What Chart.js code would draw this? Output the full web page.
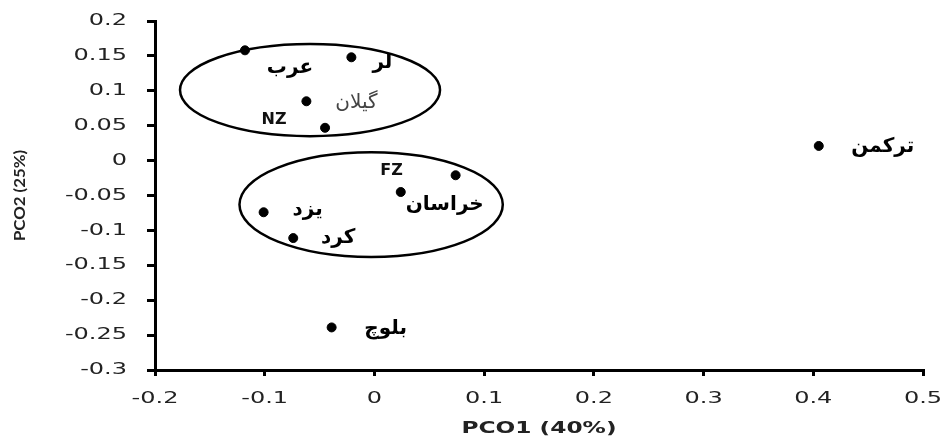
<!DOCTYPE html>
<html>
<head>
<meta charset="utf-8">
<script src="https://cdn.jsdelivr.net/npm/chart.js@4.4.1/dist/chart.umd.min.js"></script>
<style>
  html, body { margin: 0; padding: 0; background: #fff; }
  #wrap { width: 946px; height: 438px; }
</style>
</head>
<body>
<div id="wrap"><canvas id="c" width="946" height="438"></canvas></div>
<script>
// ---- data ----
const groups = ['عرب', 'لر', 'گیلان', 'NZ', 'FZ', 'خراسان', 'یزد', 'کرد', 'بلوچ', 'ترکمن'];
const pco1 = [-0.118, -0.021, -0.062, -0.045, 0.074, 0.024, -0.101, -0.074, -0.039, 0.405];
const pco2 = [0.158, 0.148, 0.085, 0.047, -0.021, -0.045, -0.074, -0.111, -0.239, 0.021];
const xTicks = [-0.2, -0.1, 0, 0.1, 0.2, 0.3, 0.4, 0.5];
const yTicks = [0.2, 0.15, 0.1, 0.05, 0, -0.05, -0.1, -0.15, -0.2, -0.25, -0.3];
const xTickLabels = ['-0.2', '-0.1', '0', '0.1', '0.2', '0.3', '0.4', '0.5'];
const yTickLabels = ['0.2', '0.15', '0.1', '0.05', '0', '-0.05', '-0.1', '-0.15', '-0.2', '-0.25', '-0.3'];
// cluster ellipses (data units): centre x, centre y, radius x, radius y
const ellipseCx = [-0.0587, -0.003];
const ellipseCy = [0.101, -0.063];
const ellipseRx = [0.1185, 0.12];
const ellipseRy = [0.066, 0.075];

// ---- label placement (pixel offsets from the point, style) ----
const labelDx = [45, 31, 50, -51, -64, 44, 44, 45, 54, 64];
const labelDy = [17, 6, 2, -8, -4, 13, -2, 0, 1, 1];
const labelBold = [true, true, false, true, true, true, true, true, true, true];

// Stretch axis text horizontally, like the reference
const stretchPlugin = {
  id: 'stretchText',
  beforeDraw(chart) {
    const ctx = chart.ctx;
    const orig = CanvasRenderingContext2D.prototype.fillText;
    ctx.fillText = function (text, x, y) {
      const s = this.font.indexOf('Lato') >= 0 ? 1.05 : 1.5;
      this.save();
      this.translate(x, y);
      this.scale(s, 1);
      orig.call(this, text, 0, 0);
      this.restore();
    };
  },
  beforeDatasetsDraw(chart) {
    delete chart.ctx.fillText;
  }
};

const ellipsePlugin = {
  id: 'ellipses',
  beforeDatasetsDraw(chart) {
    const ctx = chart.ctx;
    const xs = chart.scales.x, ys = chart.scales.y;
    ctx.save();
    ctx.strokeStyle = '#000';
    ctx.lineWidth = 2.5;
    for (let i = 0; i < ellipseCx.length; i++) {
      const cx = xs.getPixelForValue(ellipseCx[i]);
      const cy = ys.getPixelForValue(ellipseCy[i]);
      const rx = Math.abs(xs.getPixelForValue(ellipseCx[i] + ellipseRx[i]) - cx);
      const ry = Math.abs(ys.getPixelForValue(ellipseCy[i] + ellipseRy[i]) - cy);
      ctx.beginPath();
      ctx.ellipse(cx, cy, rx, ry, 0, 0, Math.PI * 2);
      ctx.stroke();
    }
    ctx.restore();
  }
};

const labelPlugin = {
  id: 'pointLabels',
  afterDatasetsDraw(chart) {
    const ctx = chart.ctx;
    const xs = chart.scales.x, ys = chart.scales.y;
    ctx.save();
    ctx.textAlign = 'center';
    ctx.textBaseline = 'middle';
    for (let i = 0; i < groups.length; i++) {
      const px = xs.getPixelForValue(pco1[i]) + labelDx[i];
      const py = ys.getPixelForValue(pco2[i]) + labelDy[i];
      const latin = /^[A-Z]+$/.test(groups[i]);
      if (latin) {
        ctx.font = 'bold 16px "DejaVu Sans"';
        ctx.fillStyle = '#111';
        ctx.direction = 'ltr';
      } else {
        ctx.font = (labelBold[i] ? 'bold ' : '') + '20px "DejaVu Sans"';
        ctx.fillStyle = labelBold[i] ? '#000' : '#444';
        ctx.direction = 'rtl';
      }
      ctx.fillText(groups[i], px, py);
    }
    ctx.restore();
  }
};

const tickFont = { family: '"DejaVu Sans"', size: 16 };

new Chart(document.getElementById('c'), {
  type: 'scatter',
  data: {
    datasets: [{
      data: pco1.map((v, i) => ({ x: v, y: pco2[i] })),
      backgroundColor: '#000',
      borderColor: '#000',
      pointRadius: 4.5,
      pointHoverRadius: 4.5
    }]
  },
  options: {
    responsive: false,
    animation: false,
    devicePixelRatio: 1,
    layout: { padding: { left: 0, top: 21, right: 23, bottom: 0 } },
    plugins: { legend: { display: false }, tooltip: { enabled: false } },
    scales: {
      x: {
        type: 'linear',
        min: -0.2, max: 0.5,
        afterBuildTicks: s => { s.ticks = xTicks.map(v => ({ value: v })); },
        afterFit: s => { s.height = 68; s.paddingLeft = 0; s.paddingRight = 0; },
        ticks: {
          color: '#222', font: tickFont, padding: 13,
          callback: (v) => xTickLabels[xTicks.findIndex(t => Math.abs(t - v) < 1e-9)]
        },
        grid: { drawOnChartArea: false, drawTicks: true, tickLength: 6, color: '#000', lineWidth: 3 },
        border: { display: true, color: '#000', width: 3 },
        title: {
          display: true, text: 'PCO1 (40%)', color: '#222',
          font: { family: '"DejaVu Sans"', size: 15.5, weight: 'bold' },
          padding: { top: 4, bottom: 0 }
        }
      },
      y: {
        type: 'linear',
        min: -0.3, max: 0.2,
        afterBuildTicks: s => { s.ticks = yTicks.map(v => ({ value: v })); },
        afterFit: s => { s.width = 155; s.paddingTop = 0; s.paddingBottom = 0; },
        ticks: {
          color: '#222', font: tickFont, padding: 20,
          callback: (v) => yTickLabels[yTicks.findIndex(t => Math.abs(t - v) < 1e-9)]
        },
        grid: { drawOnChartArea: false, drawTicks: true, tickLength: 8, color: '#000', lineWidth: 3 },
        border: { display: true, color: '#000', width: 3 },
        title: {
          display: true, text: 'PCO2 (25%)', color: '#222',
          font: { family: 'Lato', size: 16, weight: 'bold' },
          padding: { top: 10, bottom: 0 }
        }
      }
    }
  },
  plugins: [stretchPlugin, ellipsePlugin, labelPlugin]
});
</script>
</body>
</html>
